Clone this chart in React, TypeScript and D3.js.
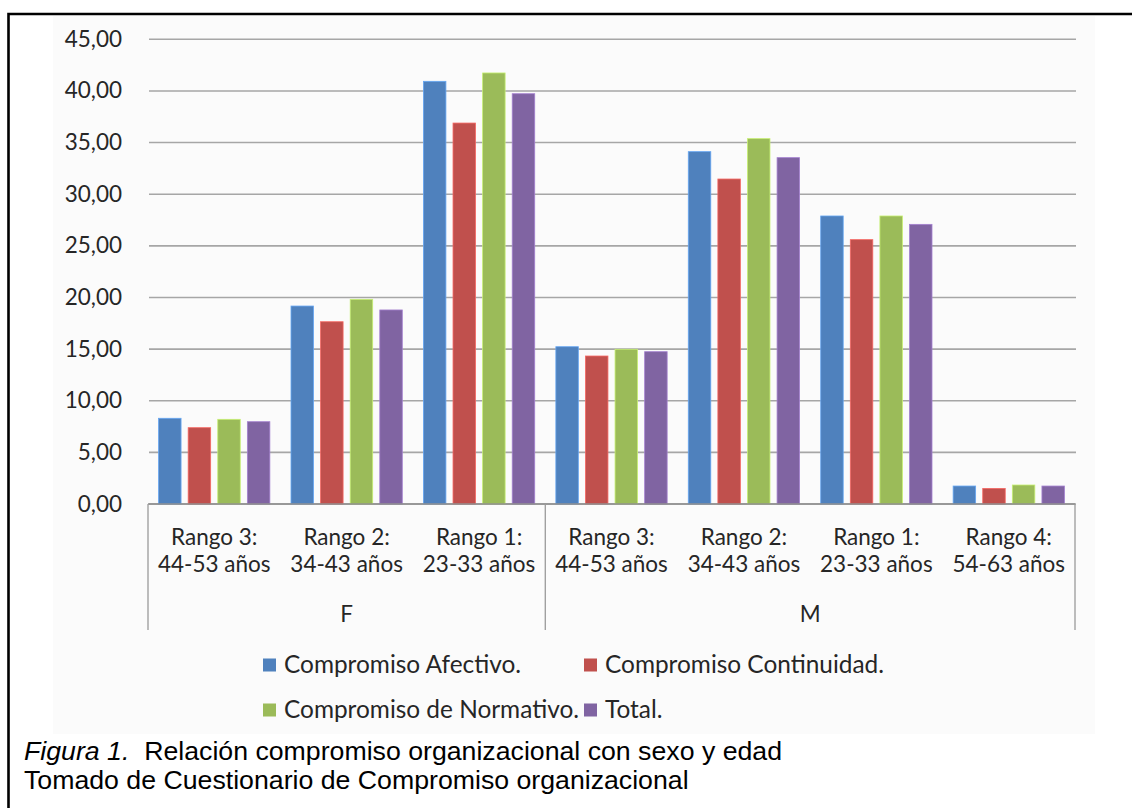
import React from "react";
import * as d3 from "d3";

// Age ranges (first line / second line of each category label) and sex group
const rangeLabels = ["Rango 3:", "Rango 2:", "Rango 1:", "Rango 3:", "Rango 2:", "Rango 1:", "Rango 4:"];
const ageLabels = ["44-53 años", "34-43 años", "23-33 años", "44-53 años", "34-43 años", "23-33 años", "54-63 años"];
const sexGroups = ["F", "M"];
const sexOfCategory = ["F", "F", "F", "M", "M", "M", "M"];

// Series values per category
const afectivo = [8.3, 19.17, 40.93, 15.23, 34.12, 27.89, 1.74];
const continuidad = [7.39, 17.65, 36.89, 14.33, 31.47, 25.6, 1.51];
const normativo = [8.2, 19.82, 41.74, 14.98, 35.38, 27.89, 1.84];
const total = [7.97, 18.79, 39.73, 14.75, 33.54, 27.08, 1.74];

const seriesNames = ["Compromiso Afectivo.", "Compromiso Continuidad.", "Compromiso de Normativo.", "Total."];
const seriesColors = ["#4F81BD", "#C0504D", "#9BBB59", "#8064A2"];
const seriesValues = [afectivo, continuidad, normativo, total];

const yTicks = [0, 5, 10, 15, 20, 25, 30, 35, 40, 45];

const captionItalic = "Figura 1.";
const captionLine1 = "Relación compromiso organizacional con sexo y edad";
const captionLine2 = "Tomado de Cuestionario de Compromiso organizacional";

const W = 1132;
const H = 808;
const plot = { left: 148, right: 1075, top: 39.3, bottom: 504 };
const labelFont = "Lato, 'Open Sans', sans-serif";
const captionFont = "'Liberation Sans', Arial, sans-serif";

export default function App() {
  const idx = d3.range(rangeLabels.length);
  const x0 = d3.scaleBand<number>().domain(idx).range([plot.left, plot.right]).padding(0);
  const x1 = d3
    .scaleBand<number>()
    .domain(d3.range(seriesNames.length))
    .range([0, x0.bandwidth()])
    .paddingInner(0.24)
    .paddingOuter(0.357);
  const y = d3.scaleLinear().domain([0, 45]).range([plot.bottom, plot.top]);
  const fmt = (v: number) => d3.format(".2f")(v).replace(".", ",");

  // group extents along the axis
  const groupExtents = sexGroups.map((g) => {
    const members = idx.filter((i) => sexOfCategory[i] === g);
    const x0s = x0(members[0]) as number;
    const x1s = (x0(members[members.length - 1]) as number) + x0.bandwidth();
    return { g, start: x0s, end: x1s };
  });
  const separators = [plot.left, ...groupExtents.map((e) => e.end)];

  const legendCols = [263, 584];
  const legendRows = [665, 710];

  return (
    <svg
      width={W}
      height={H}
      style={{ position: "absolute", left: 0, top: 0, background: "#ffffff" }}
    >
      {/* chart area */}
      <rect x={53} y={16} width={1042} height={718} fill="#fbfbfb" />

      {/* gridlines */}
      {yTicks.map((t) => (
        <line
          key={"g" + t}
          x1={plot.left + 1}
          x2={plot.right + 1}
          y1={y(t)}
          y2={y(t)}
          stroke="#a6a6a6"
          strokeWidth={1.6}
        />
      ))}

      {/* y tick labels */}
      {yTicks.map((t) => (
        <text
          key={"yl" + t}
          x={122}
          y={y(t) + 7.5}
          textAnchor="end"
          fontFamily={labelFont}
          fontSize={22.5}
          fill="#262626"
        >
          {fmt(t)}
        </text>
      ))}

      {/* bars */}
      {seriesValues.map((vals, s) =>
        vals.map((v, i) => (
          <rect
            key={`b${s}-${i}`}
            x={(x0(i) as number) + (x1(s) as number)}
            y={y(v)}
            width={x1.bandwidth()}
            height={y(0) - y(v)}
            fill={seriesColors[s]}
            stroke={d3.color(seriesColors[s])!.brighter(0.7).formatHex()}
            strokeWidth={0.8}
          />
        ))
      )}

      {/* category axis */}
      <line x1={plot.left} x2={plot.right} y1={plot.bottom} y2={plot.bottom} stroke="#8c8c8c" strokeWidth={1.5} />
      {separators.map((sx, k) => (
        <line key={"sep" + k} x1={sx} x2={sx} y1={plot.bottom} y2={630} stroke="#9a9a9a" strokeWidth={1.3} />
      ))}

      {idx.map((i) => {
        const cx = (x0(i) as number) + x0.bandwidth() / 2;
        return (
          <g key={"xl" + i} fontFamily={labelFont} fontSize={22.5} fill="#262626" textAnchor="middle">
            <text x={cx} y={545}>
              {rangeLabels[i]}
            </text>
            <text x={cx} y={572}>
              {ageLabels[i]}
            </text>
          </g>
        );
      })}
      {groupExtents.map((e) => (
        <text
          key={"grp" + e.g}
          x={(e.start + e.end) / 2}
          y={622}
          textAnchor="middle"
          fontFamily={labelFont}
          fontSize={22.5}
          fill="#262626"
        >
          {e.g}
        </text>
      ))}

      {/* legend */}
      {seriesNames.map((name, s) => {
        const lx = legendCols[s % 2];
        const ly = legendRows[Math.floor(s / 2)];
        return (
          <g key={"lg" + s}>
            <rect x={lx} y={ly - 6.5} width={13} height={13} fill={seriesColors[s]} />
            <text x={lx + 21} y={ly + 8} fontFamily={labelFont} fontSize={24.4} fill="#262626">
              {name}
            </text>
          </g>
        );
      })}

      {/* caption */}
      <text x={24} y={760} fontFamily={captionFont} fontSize={26.7} fill="#000">
        <tspan fontStyle="italic">{captionItalic}</tspan>
        <tspan>{"\u00a0\u00a0" + captionLine1}</tspan>
      </text>
      <text x={24} y={789} fontFamily={captionFont} fontSize={26.7} fill="#000">
        {captionLine2}
      </text>

      {/* frame */}
      <path d={`M8.5,${H} V14 H${W}`} fill="none" stroke="#000" strokeWidth={2.6} />
    </svg>
  );
}
